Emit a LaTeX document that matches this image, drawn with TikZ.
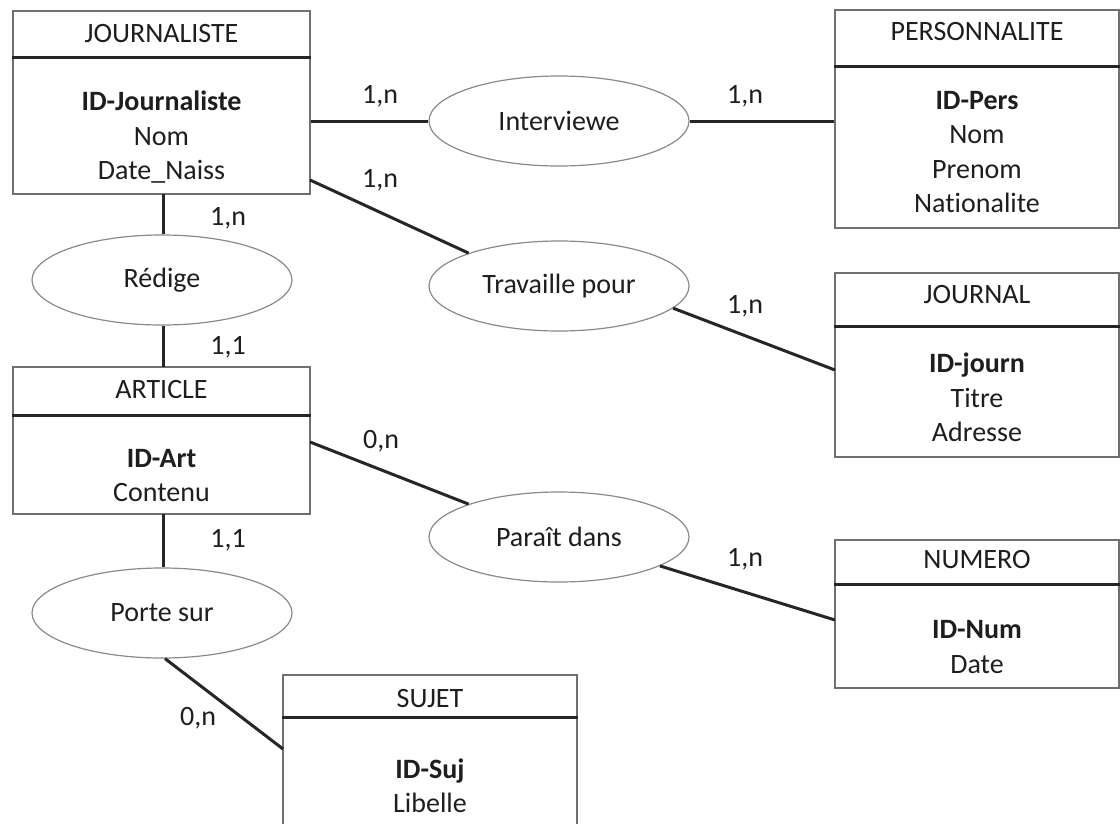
\documentclass[tikz,border=0pt]{standalone}
\usepackage{fontspec}
\setmainfont{Carlito}[Ligatures=NoCommon]
\usetikzlibrary{shapes.geometric}
\definecolor{boxgray}{HTML}{707070}
\definecolor{ellgray}{HTML}{8A8A8A}
\definecolor{linedark}{HTML}{262626}
\definecolor{txt}{HTML}{1E1E1E}
\tikzset{
  entity/.style={draw=boxgray, line width=1.4pt, inner sep=0pt, rectangle},
  sepline/.style={draw=linedark, line width=2.8pt},
  relation/.style={draw=ellgray, line width=1.2pt, ellipse, inner sep=0pt,
    minimum width=260pt, minimum height=90pt, font=\fontsize{28}{32}\selectfont, text=txt},
  conn/.style={draw=linedark, line width=3pt},
  lbl/.style={font=\fontsize{28}{32}\selectfont, text=txt, inner sep=0pt, anchor=base},
  card/.style={font=\fontsize{28}{32}\selectfont, text=txt, inner sep=0pt},
}
\begin{document}
\begin{tikzpicture}[x=1pt,y=-1pt]
\useasboundingbox (0,0) rectangle (1120,823);
\fill[white] (0,0) rectangle (1120,823);
\clip (0,0) rectangle (1120,823);

% ---------- entities ----------
% JOURNALISTE
\node[entity, minimum width=297pt, minimum height=183pt] (journaliste) at (161.5,102.5) {};
\draw[sepline] ([yshift=-47pt]journaliste.north west) -- ([yshift=-47pt]journaliste.north east);
\node[lbl] (jt) at (161.5,42) {JOURNALISTE};
\node[lbl] (j1) at (161.5,110) {\bfseries ID-Journaliste};
\node[lbl] (j2) at (161.5,145) {Nom};
\node[lbl] (j3) at (161.5,179) {Date\_Naiss};

% PERSONNALITE
\node[entity, minimum width=284pt, minimum height=218pt] (perso) at (977,119) {};
\draw[sepline] ([yshift=-57pt]perso.north west) -- ([yshift=-57pt]perso.north east);
\node[lbl] (pt) at (977,40) {PERSONNALITE};
\node[lbl] (p1) at (977,109) {\bfseries ID-Pers};
\node[lbl] (p2) at (977,143) {Nom};
\node[lbl] (p3) at (977,178) {Prenom};
\node[lbl] (p4) at (977,212) {Nationalite};

% ARTICLE
\node[entity, minimum width=297pt, minimum height=147pt] (article) at (161.5,440.5) {};
\draw[sepline] ([yshift=-49pt]article.north west) -- ([yshift=-49pt]article.north east);
\node[lbl] (at) at (161.5,398) {ARTICLE};
\node[lbl] (a1) at (161.5,467) {\bfseries ID-Art};
\node[lbl] (a2) at (161.5,501) {Contenu};

% JOURNAL
\node[entity, minimum width=284pt, minimum height=184pt] (journal) at (977,365) {};
\draw[sepline] ([yshift=-54pt]journal.north west) -- ([yshift=-54pt]journal.north east);
\node[lbl] (jlt) at (977,303) {JOURNAL};
\node[lbl] (jl1) at (977,372) {\bfseries ID-journ};
\node[lbl] (jl2) at (977,407) {Titre};
\node[lbl] (jl3) at (977,441) {Adresse};

% NUMERO
\node[entity, minimum width=284pt, minimum height=148pt] (numero) at (977,614) {};
\draw[sepline] ([yshift=-45pt]numero.north west) -- ([yshift=-45pt]numero.north east);
\node[lbl] (nt) at (977,568) {NUMERO};
\node[lbl] (n1) at (977,638) {\bfseries ID-Num};
\node[lbl] (n2) at (977,673) {Date};

% SUJET
\node[entity, minimum width=294pt, minimum height=160pt] (sujet) at (430,755) {};
\draw[sepline] ([yshift=-43pt]sujet.north west) -- ([yshift=-43pt]sujet.north east);
\node[lbl] (st) at (430,707) {SUJET};
\node[lbl] (s1) at (430,778) {\bfseries ID-Suj};
\node[lbl] (s2) at (430,812) {Libelle};

% ---------- relations ----------
\node[relation] (interv) at (559,121) {Interviewe};
\node[relation] (redige) at (162,280) {Rédige};
\node[relation] (travaille) at (559,286) {Travaille pour};
\node[relation] (parait) at (559,537) {Paraît dans};
\node[relation] (porte) at (162,613) {Porte sur};

% ---------- attachment points ----------
\coordinate (jI) at (journaliste.east |- interv.west);
\coordinate (pI) at (perso.west |- interv.east);
\coordinate (jT) at (310,180);
\coordinate (jlT) at (835,370);
\coordinate (aP) at (310,442);
\coordinate (nP) at (835,620);
\coordinate (jR) at (163,194);
\coordinate (aR) at (163,367);
\coordinate (aPo) at (163,514);
\coordinate (sPo) at (283,749);

% ---------- connectors ----------
\draw[conn] (jI) -- (interv.west);
\draw[conn] (interv.east) -- (pI);
\draw[conn] (jT) -- (travaille.160);
\draw[conn] (travaille.-11) -- (jlT);
\draw[conn] (aP) -- (parait.160);
\draw[conn] (parait.-16) -- (nP);
\draw[conn] (jR) -- (jR |- redige.north);
\draw[conn] (aR |- redige.south) -- (aR);
\draw[conn] (aPo) -- (aPo |- porte.north);
\draw[conn] ([xshift=3pt]porte.south) -- (sPo);

% ---------- cardinalities ----------
\node[card] (c1) at (380,96) {1,n};
\node[card] (c2) at (745,96) {1,n};
\node[card] (c3) at (380,180) {1,n};
\node[card] (c4) at (745,306) {1,n};
\node[card] (c5) at (228,218) {1,n};
\node[card] (c6) at (228,347) {1,1};
\node[card] (c7) at (381,441) {0,n};
\node[card] (c8) at (745,559) {1,n};
\node[card] (c9) at (228,540) {1,1};
\node[card] (c10) at (198,718) {0,n};
\end{tikzpicture}
\end{document}
